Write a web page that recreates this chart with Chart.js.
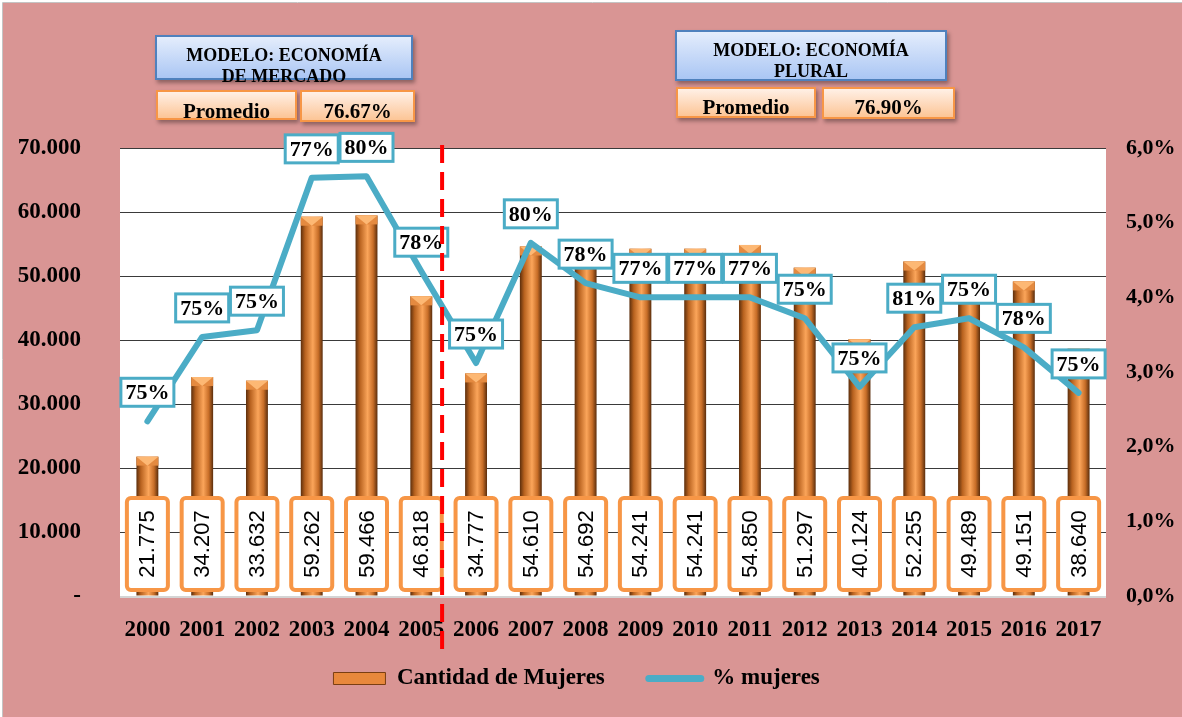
<!DOCTYPE html>
<html>
<head>
<meta charset="utf-8">
<script src="https://cdn.jsdelivr.net/npm/chart.js@4.4.1/dist/chart.umd.min.js"></script>
<style>
  html, body { margin: 0; padding: 0; background: #fff; }
  #wrap { position: relative; width: 1182px; height: 717px; overflow: hidden; }
  #wrap canvas { position: absolute; left: 0; top: 0; }
  .box {
    position: absolute; box-sizing: border-box; overflow: hidden;
    font-family: "Liberation Serif", "Times New Roman", serif; font-weight: bold;
    color: #000; text-align: center; box-shadow: 2px 3px 4px rgba(0,0,0,0.35);
  }
  .blue { background: linear-gradient(#E4EDFC, #AAC6F4); border: 2px solid #4F81BD;
          font-size: 18px; line-height: 21px; padding-top: 8px; overflow: visible; }
  .orange { background: linear-gradient(#FFF0E6, #FCC596); border: 2px solid #F79646;
            font-size: 21px; line-height: 21px; padding-top: 9px; }
</style>
</head>
<body>
<div id="wrap">
  <canvas id="chart" width="1182" height="717"></canvas>

  <div class="box blue" style="left:155px; top:35px; width:258px; height:45px;">MODELO: ECONOMÍA<br>DE MERCADO</div>
  <div class="box orange" style="left:156px; top:90px; width:141px; height:30px;">Promedio</div>
  <div class="box orange" style="left:300px; top:90px; width:115px; height:32px;">76.67%</div>

  <div class="box blue" style="left:675px; top:30px; width:272px; height:51px;">MODELO: ECONOMÍA<br>PLURAL</div>
  <div class="box orange" style="left:676px; top:87px; width:140px; height:31px; padding-top:8px;">Promedio</div>
  <div class="box orange" style="left:822px; top:87px; width:133px; height:32px; padding-top:8px;">76.90%</div>
</div>

<script>
        // Data
        const years = ['2000', '2001', '2002', '2003', '2004', '2005', '2006', '2007', '2008',
                       '2009', '2010', '2011', '2012', '2013', '2014', '2015', '2016', '2017'];
        const mujeres = [21775, 34207, 33632, 59262, 59466, 46818, 34777, 54610, 54692,
                         54241, 54241, 54850, 51297, 40124, 52255, 49489, 49151, 38640];
        // where the blue line sits on the right axis (in %)
        const pctLine = [2.34, 3.47, 3.56, 5.60, 5.62, 4.35, 3.12, 4.73, 4.19,
                         4.00, 4.00, 4.00, 3.72, 2.80, 3.60, 3.72, 3.33, 2.72];
        // what its labels say
        const pctLabels = ['75%', '75%', '75%', '77%', '80%', '78%', '75%', '80%', '78%',
                           '77%', '77%', '77%', '75%', '75%', '81%', '75%', '78%', '75%'];
        const dividerAt = 5.38; // between 2005 and 2006

        const serif = '"Liberation Serif", "Times New Roman", serif';
        const sans = '"Liberation Sans", Arial, sans-serif';
        const lineBlue = '#4BACC6';
        const orange = '#F79646';

        const fmtThousands = v => String(v).replace(/\B(?=(\d{3})+(?!\d))/g, '.');

        // Cylinder look for the bars
        function barGradient(c) {
            const chart = c.chart;
            const xs = chart.scales.x;
            if (!xs || !xs.width) return '#E0843A';
            const cx = xs.getPixelForValue(c.dataIndex);
            const w = xs.width / years.length * 0.4;
            const g = chart.ctx.createLinearGradient(cx - w / 2, 0, cx + w / 2, 0);
            g.addColorStop(0, '#5C2E0C');
            g.addColorStop(0.2, '#B8621F');
            g.addColorStop(0.55, '#FBA55A');
            g.addColorStop(0.8, '#C86E28');
            g.addColorStop(1, '#5A2D0C');
            return g;
        }

        function roundBox(ctx, x, y, w, h, r) {
            ctx.beginPath();
            if (ctx.roundRect) ctx.roundRect(x, y, w, h, r);
            else ctx.rect(x, y, w, h);
        }

        // Pink background + white plot area
        const backgroundPlugin = {
            id: 'backgroundPlugin',
            beforeDraw(chart) {
                const { ctx, chartArea: a } = chart;
                ctx.save();
                ctx.fillStyle = '#D99594';
                ctx.fillRect(3, 3, chart.width - 3, chart.height - 3);
                ctx.strokeStyle = '#C4C4C4';
                ctx.lineWidth = 1;
                ctx.beginPath();
                ctx.moveTo(2.5, chart.height);
                ctx.lineTo(2.5, 2.5);
                ctx.lineTo(chart.width, 2.5);
                ctx.stroke();
                ctx.fillStyle = '#FFFFFF';
                ctx.fillRect(a.left, a.top, a.right - a.left, a.bottom - a.top);
                ctx.fillStyle = '#D4D4D4';
                ctx.fillRect(a.left, a.bottom, a.right - a.left, 2);
                ctx.restore();
            }
        };

        // Bevelled tops on the bars
        const barCapPlugin = {
            id: 'barCapPlugin',
            afterDatasetDraw(chart, args) {
                if (args.index !== 0) return;
                const ctx = chart.ctx;
                ctx.save();
                args.meta.data.forEach(bar => {
                    const l = bar.x - bar.width / 2, r = bar.x + bar.width / 2, t = bar.y;
                    ctx.fillStyle = '#E48A40';
                    ctx.fillRect(l, t, r - l, 9);
                    ctx.fillStyle = '#FDB874';
                    ctx.beginPath();
                    ctx.moveTo(l, t);
                    ctx.lineTo(r, t);
                    ctx.lineTo(bar.x, t + 9);
                    ctx.closePath();
                    ctx.fill();
                });
                ctx.restore();
            }
        };

        // Boxed value labels
        const labelPlugin = {
            id: 'labelPlugin',
            afterDatasetsDraw(chart) {
                const ctx = chart.ctx;
                const bottom = chart.chartArea.bottom;
                ctx.save();

                // bar values: orange boxes, vertical text
                chart.getDatasetMeta(0).data.forEach((bar, i) => {
                    const w = 41, h = 92, cy = bottom - 52;
                    roundBox(ctx, bar.x - w / 2, cy - h / 2, w, h, 4);
                    ctx.fillStyle = '#FFFFFF';
                    ctx.fill();
                    ctx.lineWidth = 4;
                    ctx.strokeStyle = orange;
                    ctx.stroke();
                    ctx.save();
                    ctx.translate(bar.x + 1, cy);
                    ctx.rotate(-Math.PI / 2);
                    ctx.fillStyle = '#000';
                    ctx.font = '22px ' + sans;
                    ctx.textAlign = 'center';
                    ctx.textBaseline = 'middle';
                    ctx.fillText(fmtThousands(mujeres[i]), 0, 0);
                    ctx.restore();
                });

                // line labels: blue boxes above the points
                ctx.font = 'bold 22px ' + serif;
                ctx.textAlign = 'center';
                ctx.textBaseline = 'middle';
                chart.getDatasetMeta(1).data.forEach((pt, i) => {
                    const txt = pctLabels[i];
                    const w = ctx.measureText(txt).width + 9, h = 28;
                    const cy = pt.y - 29;
                    ctx.fillStyle = '#FFFFFF';
                    ctx.fillRect(pt.x - w / 2, cy - h / 2, w, h);
                    ctx.lineWidth = 3;
                    ctx.strokeStyle = lineBlue;
                    ctx.strokeRect(pt.x - w / 2, cy - h / 2, w, h);
                    ctx.fillStyle = '#000';
                    ctx.fillText(txt, pt.x, cy + 1);
                });
                ctx.restore();
            },
            afterDraw(chart) {
                // red dashed divider between the two models
                const ctx = chart.ctx;
                const x = chart.scales.x.getPixelForValue(dividerAt);
                ctx.save();
                ctx.strokeStyle = '#FF0000';
                ctx.lineWidth = 4;
                ctx.setLineDash([18, 9]);
                ctx.beginPath();
                ctx.moveTo(x, chart.chartArea.top - 3);
                ctx.lineTo(x, chart.chartArea.bottom + 54);
                ctx.stroke();
                ctx.restore();
            }
        };

        Chart.defaults.font.family = serif;
        Chart.defaults.font.weight = 'bold';
        Chart.defaults.color = '#000';

        new Chart(document.getElementById('chart'), {
            data: {
                labels: years,
                datasets: [
                    {
                        type: 'bar',
                        label: 'Cantidad de Mujeres',
                        data: mujeres,
                        yAxisID: 'y',
                        backgroundColor: barGradient,
                        borderWidth: 0,
                        barPercentage: 0.4,
                        categoryPercentage: 1,
                        order: 2
                    },
                    {
                        type: 'line',
                        label: '% mujeres',
                        data: pctLine,
                        yAxisID: 'y1',
                        borderColor: lineBlue,
                        backgroundColor: lineBlue,
                        borderWidth: 6,
                        borderJoinStyle: 'round',
                        borderCapStyle: 'round',
                        pointRadius: 0,
                        tension: 0,
                        order: 1
                    }
                ]
            },
            options: {
                responsive: false,
                animation: false,
                layout: {
                    padding: { top: 148, left: 3, right: 3, bottom: 17 }
                },
                plugins: {
                    tooltip: { enabled: false },
                    legend: {
                        position: 'bottom',
                        labels: {
                            usePointStyle: true,
                            pointStyleWidth: 52,
                            boxHeight: 12,
                            padding: 21,
                            font: { size: 23, weight: 'bold', family: serif },
                            color: '#000',
                            generateLabels: () => [
                                {
                                    text: 'Cantidad de Mujeres\u00a0\u00a0\u00a0\u00a0',
                                    fillStyle: '#E8883C',
                                    strokeStyle: '#7A3E12',
                                    lineWidth: 1,
                                    pointStyle: 'rect',
                                    datasetIndex: 0,
                                    fontColor: '#000'
                                },
                                {
                                    text: '% mujeres\u00a0\u00a0\u00a0\u00a0\u00a0',
                                    fillStyle: lineBlue,
                                    strokeStyle: lineBlue,
                                    lineWidth: 7,
                                    lineCap: 'round',
                                    pointStyle: 'line',
                                    datasetIndex: 1,
                                    fontColor: '#000'
                                }
                            ]
                        }
                    }
                },
                scales: {
                    x: {
                        grid: { display: false, drawTicks: false },
                        border: { display: false },
                        ticks: {
                            autoSkip: false,
                            maxRotation: 0,
                            padding: 20,
                            font: { size: 23, weight: 'bold' }
                        },
                        afterFit: s => { s.height = 50; }
                    },
                    y: {
                        position: 'left',
                        min: 0,
                        max: 70000,
                        border: { display: false },
                        grid: {
                            drawTicks: false,
                            color: c => c.tick && c.tick.value === 0 ? 'rgba(0,0,0,0)' : '#3A3A3A',
                            lineWidth: 1
                        },
                        ticks: {
                            stepSize: 10000,
                            padding: 39,
                            font: { size: 23, weight: 'bold' },
                            callback: v => v === 0 ? '-' : fmtThousands(v)
                        },
                        afterFit: s => { s.width = 117; }
                    },
                    y1: {
                        position: 'right',
                        min: 0,
                        max: 6,
                        border: { display: false },
                        grid: { display: false, drawTicks: false },
                        ticks: {
                            stepSize: 1,
                            padding: 20,
                            font: { size: 22, weight: 'bold' },
                            callback: v => v.toFixed(1).replace('.', ',') + '%'
                        },
                        afterFit: s => { s.width = 73; }
                    }
                }
            },
            plugins: [backgroundPlugin, barCapPlugin, labelPlugin]
        });
</script>
</body>
</html>
